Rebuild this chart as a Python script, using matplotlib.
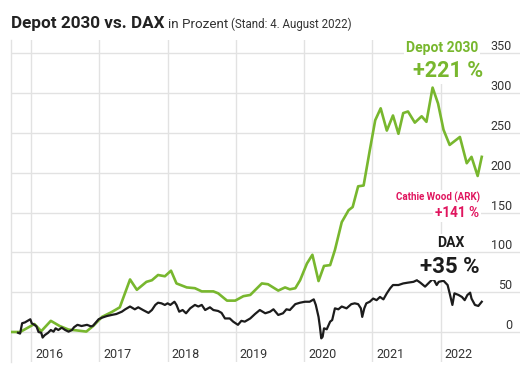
import matplotlib
matplotlib.use("Agg")
import matplotlib.pyplot as plt
import matplotlib.transforms as mtransforms

plt.rcParams['font.family'] = ['Roboto', 'DejaVu Sans']

# Depot 2030, Entwicklung in Prozent (Dezimaljahr, Wert)
depot_t = [2015.71, 2015.84, 2016.05, 2016.15, 2016.29, 2016.42, 2016.55, 2016.67, 2016.81, 2016.91,
           2017.04, 2017.18, 2017.30, 2017.45, 2017.55, 2017.69, 2017.77, 2017.86, 2017.96, 2018.05,
           2018.13, 2018.28, 2018.40, 2018.50, 2018.67, 2018.74, 2018.87, 2018.99, 2019.11, 2019.21,
           2019.38, 2019.47, 2019.62, 2019.72, 2019.79, 2019.87, 2019.94, 2020.04, 2020.12, 2020.21,
           2020.29, 2020.38, 2020.45, 2020.55, 2020.65, 2020.71, 2020.79, 2020.87, 2020.96, 2021.04,
           2021.12, 2021.21, 2021.30, 2021.38, 2021.45, 2021.52, 2021.62, 2021.72, 2021.79, 2021.88,
           2021.96, 2022.04, 2022.13, 2022.28, 2022.38, 2022.45, 2022.54, 2022.60]
depot_v = [0, 0, 10, 1, 14, 7.5, 3, 2, 0.5, 7.5,
           19, 25, 31, 66, 53, 63, 65, 71.6, 70, 77,
           61, 56, 55, 51, 51, 48.6, 39.4, 39.4, 45, 46.5,
           61, 60, 52, 56, 53.6, 55, 65, 86, 97, 64,
           83, 84, 103, 138, 153, 157, 183, 184, 228, 266,
           281, 253, 272, 249, 275, 277, 263, 271, 264, 307,
           287, 254, 235, 245, 212, 220, 196, 220]

# DAX, Entwicklung in Prozent
dax_t = [2015.81, 2015.84, 2015.87, 2015.91, 2015.95, 2015.99, 2016.01, 2016.05, 2016.08, 2016.11,
         2016.15, 2016.17, 2016.20, 2016.25, 2016.29, 2016.33, 2016.36, 2016.40, 2016.45, 2016.50,
         2016.55, 2016.60, 2016.63, 2016.68, 2016.74, 2016.82, 2016.88, 2016.91, 2016.94, 2016.99,
         2017.04, 2017.11, 2017.18, 2017.25, 2017.33, 2017.38, 2017.45, 2017.52, 2017.57, 2017.64,
         2017.72, 2017.77, 2017.82, 2017.86, 2017.91, 2017.96, 2018.00, 2018.04, 2018.10, 2018.13,
         2018.17, 2018.22, 2018.27, 2018.33, 2018.40, 2018.45, 2018.50, 2018.55, 2018.62, 2018.67,
         2018.74, 2018.79, 2018.84, 2018.91, 2018.96, 2019.03, 2019.08, 2019.13, 2019.21, 2019.28,
         2019.35, 2019.43, 2019.50, 2019.55, 2019.62, 2019.69, 2019.74, 2019.79, 2019.87, 2019.94,
         2020.01, 2020.08, 2020.14, 2020.17, 2020.21, 2020.23, 2020.25, 2020.27, 2020.29, 2020.33,
         2020.38, 2020.41, 2020.45, 2020.50, 2020.55, 2020.62, 2020.69, 2020.74, 2020.79, 2020.83,
         2020.85, 2020.88, 2020.91, 2020.96, 2021.01, 2021.06, 2021.11, 2021.16, 2021.21, 2021.26,
         2021.30, 2021.38, 2021.45, 2021.52, 2021.60, 2021.65, 2021.70, 2021.77, 2021.84, 2021.89,
         2021.94, 2021.97, 2022.04, 2022.10, 2022.13, 2022.17, 2022.20, 2022.26, 2022.31, 2022.35,
         2022.39, 2022.43, 2022.45, 2022.50, 2022.55, 2022.60]
dax_v = [-1, -2, 11, 12, 14, 16, 11, 9, 7, 0,
         -1, -7, -4, -1, 2.5, 0.4, 4.6, 2.5, 5.4, 2.5,
         0.4, 2.5, 6, 9, 7.5, 9, 7, 8, 11, 16,
         18, 20, 21.4, 22.6, 25.5, 28.5, 32, 28.5, 31, 27.6,
         24, 27.6, 34, 36.8, 36, 34, 36, 34, 38, 34,
         25.5, 27.6, 23.5, 29.7, 34, 32, 34, 27.6, 31, 27.6,
         26.4, 24, 17, 17, 13, 9, 14, 13, 17, 22.6,
         27.6, 23.5, 25.5, 28.5, 21.4, 23.5, 28.5, 27.6, 35, 36.8,
         38, 38, 41, 34, 19, 6.7, -8, -6, 4.6, 3.4,
         13, 15, 29.7, 28.5, 32, 29.7, 35, 36, 35, 29.7,
         19, 29.7, 36, 38, 42, 40, 44, 41, 48.6, 55,
         59, 59, 61, 62, 63, 65, 62, 57, 63, 67,
         59, 63, 64.4, 59, 48.6, 34, 48.6, 46.5, 44, 40,
         46.5, 49.4, 42, 34, 32.7, 38]

years = [2016, 2017, 2018, 2019, 2020, 2021, 2022]
y_ticks = [0, 50, 100, 150, 200, 250, 300, 350]

GREEN = '#78b72e'
PINK = '#e0155e'
DARK = '#1c1c1c'
GRID = '#e2e2e2'

fig = plt.figure(figsize=(5.30, 3.76), dpi=100)
ax = fig.add_axes([11 / 530, 1 - 362 / 376, 509 / 530, 322 / 376])

ax.plot(depot_t, depot_v, color=GREEN, lw=1.9, solid_joinstyle='round', zorder=3)
ax.plot(dax_t, dax_v, color=DARK, lw=1.6, solid_joinstyle='round', zorder=4)

ax.set_xlim(2015.707, 2023.16)
ax.set_ylim(-37.7, 366.8)

for s in ['top', 'right', 'bottom']:
    ax.spines[s].set_visible(False)
ax.spines['left'].set_color(GRID)
ax.spines['left'].set_linewidth(1)

ax.set_xticks(years)
ax.set_xticklabels([str(y) for y in years])
ax.set_yticks(y_ticks)
ax.set_yticklabels([str(v) for v in y_ticks])
ax.grid(True, color=GRID, lw=1)
ax.set_axisbelow(True)

ax.yaxis.tick_right()
ax.tick_params(axis='both', length=0, labelsize=9, labelcolor='#333333')
ax.tick_params(axis='y', pad=-5.8)
for lbl in ax.get_yticklabels():
    lbl.set_ha('right')
    lbl.set_va('bottom')

ax.tick_params(axis='x', pad=-0.5)
shift = mtransforms.ScaledTranslation(4 / 100, 0, fig.dpi_scale_trans)
for lbl in ax.get_xticklabels():
    lbl.set_ha('left')
    lbl.set_va('bottom')
    lbl.set_transform(lbl.get_transform() + shift)

box = dict(facecolor='white', edgecolor='none', pad=1.5)
ax.text(0.918, 0.974, 'Depot 2030', transform=ax.transAxes, ha='right', va='center',
        color=GREEN, fontsize=10, fontweight='bold', bbox=box, zorder=5)
ax.text(0.928, 0.905, '+221 %', transform=ax.transAxes, ha='right', va='center',
        color=GREEN, fontsize=15.5, fontweight='bold', bbox=box, zorder=5)
ax.text(0.921, 0.510, 'Cathie Wood (ARK)', transform=ax.transAxes, ha='right', va='center',
        color=PINK, fontsize=7, fontweight='bold', bbox=box, zorder=5)
ax.text(0.920, 0.464, '+141 %', transform=ax.transAxes, ha='right', va='center',
        color=PINK, fontsize=9.8, fontweight='bold', bbox=box, zorder=5)
ax.text(0.864, 0.370, 'DAX', transform=ax.transAxes, ha='center', va='center',
        color=DARK, fontsize=10, fontweight='bold', bbox=box, zorder=5)
ax.text(0.862, 0.296, '+35 %', transform=ax.transAxes, ha='center', va='center',
        color=DARK, fontsize=16, fontweight='bold', bbox=box, zorder=5)

# Titelzeile aus drei Teilen
r = fig.canvas.get_renderer()
base_y = 1 - 28 / 376
t1 = fig.text(11 / 530, base_y, 'Depot 2030 vs. DAX', fontsize=12.3, fontweight='bold',
              color='#222222', va='baseline')
x1 = t1.get_window_extent(r).x1 / fig.bbox.width + 4 / 530
t2 = fig.text(x1, base_y, 'in Prozent', fontsize=9.6, color='#333333', va='baseline')
x2 = t2.get_window_extent(r).x1 / fig.bbox.width + 2 / 530
fig.text(x2, base_y, '(Stand: 4. August 2022)', fontsize=8.3, color='#333333', va='baseline')

fig.savefig('out.png', dpi=100)
